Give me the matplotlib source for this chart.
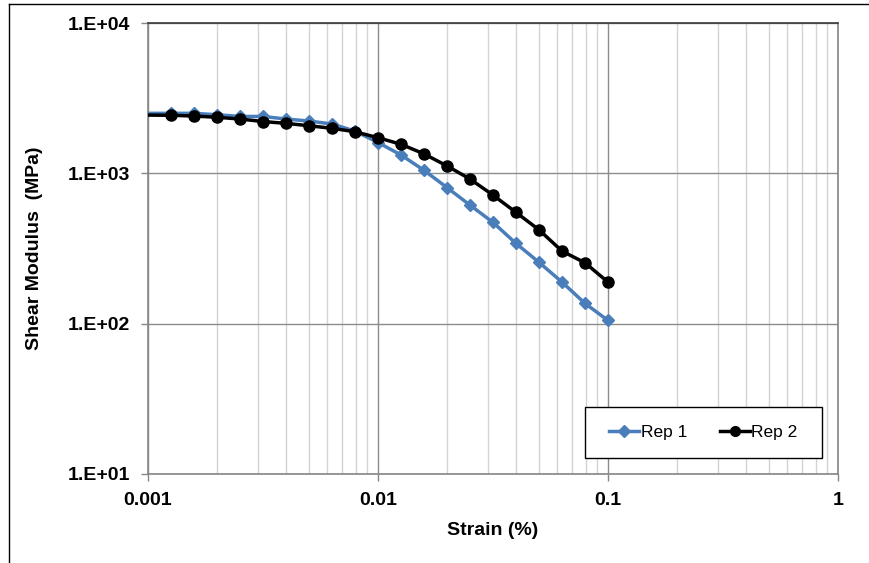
import matplotlib
matplotlib.use("Agg")
import matplotlib.pyplot as plt
from matplotlib.ticker import FixedLocator, FuncFormatter, NullFormatter, LogLocator
from matplotlib.lines import Line2D
from matplotlib.patches import Rectangle

strain = [0.001, 0.00126, 0.00158, 0.002, 0.00251, 0.00316, 0.00398, 0.00501, 0.00631, 0.00794,
          0.01, 0.0126, 0.0158, 0.02, 0.0251, 0.0316, 0.0398, 0.0501, 0.0631, 0.0794, 0.1]
rep1 = [2507, 2507, 2507, 2454, 2390, 2390, 2298, 2228, 2128, 1911,
        1603, 1324, 1051, 802, 615, 472, 342, 256, 189, 136.5, 105]
rep2 = [2440, 2432, 2406, 2359, 2298, 2211, 2150, 2073, 1993, 1891,
        1726, 1560, 1350, 1118, 917, 717, 550, 421, 304, 254, 189]

x_ticks = [0.001, 0.01, 0.1, 1]
x_tick_labels = ["0.001", "0.01", "0.1", "1"]
y_ticks = [10, 100, 1000, 10000]
y_tick_labels = ["1.E+01", "1.E+02", "1.E+03", "1.E+04"]

plt.rcParams['font.family'] = ['Liberation Sans', 'DejaVu Sans']

W, H = 869, 563
fig = plt.figure(figsize=(W/100, H/100), dpi=100)
L, R, T, B = 148, 838, 23, 474
ax = fig.add_axes([L/W, 1 - B/H, (R-L)/W, (B-T)/H])

def axx(px):
    return (px - L) / (R - L)

def axy(py):
    return (B - py) / (B - T)

ax.set_xscale('log')
ax.set_yscale('log')
ax.set_xlim(0.001, 1)
ax.set_ylim(10, 10000)

ax.xaxis.set_major_locator(FixedLocator(x_ticks))
ax.xaxis.set_major_formatter(FuncFormatter(lambda v, p: x_tick_labels[x_ticks.index(v)] if v in x_ticks else ""))
ax.xaxis.set_minor_locator(LogLocator(base=10, subs=range(2, 10)))
ax.xaxis.set_minor_formatter(NullFormatter())
ax.yaxis.set_major_locator(FixedLocator(y_ticks))
ax.yaxis.set_major_formatter(FuncFormatter(lambda v, p: y_tick_labels[y_ticks.index(v)] if v in y_ticks else ""))
ax.yaxis.set_minor_locator(FixedLocator([]))

ax.grid(True, which='minor', axis='x', color='#d4d4d4', linewidth=1.0)
ax.grid(True, which='major', axis='both', color='#8c8c8c', linewidth=1.0)
ax.set_axisbelow(True)

for side in ['left', 'bottom', 'right']:
    ax.spines[side].set_color('#868686')
    ax.spines[side].set_linewidth(1.2)
ax.spines['top'].set_color('#3a3a3a')
ax.spines['top'].set_linewidth(1.2)

ax.tick_params(axis='both', which='major', length=5, width=1, color='#868686',
               labelsize=14, pad=8)
ax.tick_params(axis='x', which='minor', length=0)
for lab in ax.get_xticklabels() + ax.get_yticklabels():
    lab.set_fontweight('bold')

ax.plot(strain, rep1, color='#4a7ebb', linewidth=2.5, marker='D', markersize=6.5,
        markevery=slice(1, None), label='Rep 1', zorder=3)
ax.plot(strain, rep2, color='black', linewidth=2.5, marker='o', markersize=8,
        markevery=slice(1, None), label='Rep 2', zorder=4)

ax.set_xlabel('Strain (%)', fontsize=14, fontweight='bold', labelpad=9)
ax.set_ylabel('Shear Modulus  (MPa)', fontsize=14, fontweight='bold', labelpad=18)

# legend box
x0, x1, y0, y1 = 585, 822, 407, 458
ax.add_patch(Rectangle((axx(x0), axy(y1)), axx(x1) - axx(x0), axy(y0) - axy(y1),
                       transform=ax.transAxes, facecolor='white', edgecolor='black',
                       linewidth=1.0, zorder=5))
h1 = Line2D([], [], color='#4a7ebb', linewidth=2.5, marker='D', markersize=6)
h2 = Line2D([], [], color='black', linewidth=2.5, marker='o', markersize=7)
leg = ax.legend([h1, h2], ['Rep 1', 'Rep 2'], loc='center',
                bbox_to_anchor=(axx((x0 + x1) / 2), axy((y0 + y1) / 2)), ncol=2,
                fontsize=12.5, frameon=False,
                handlelength=1.7, handletextpad=0.1, columnspacing=1.9,
                borderpad=0.0)
leg.set_zorder(6)

# chart-area frame
fig.add_artist(Line2D([9/W, 9/W], [0, 1 - 4/H], transform=fig.transFigure,
                      color='black', linewidth=1.0))
fig.add_artist(Line2D([9/W, 1], [1 - 4/H, 1 - 4/H], transform=fig.transFigure,
                      color='black', linewidth=1.0))

fig.savefig('out.png', dpi=100)
